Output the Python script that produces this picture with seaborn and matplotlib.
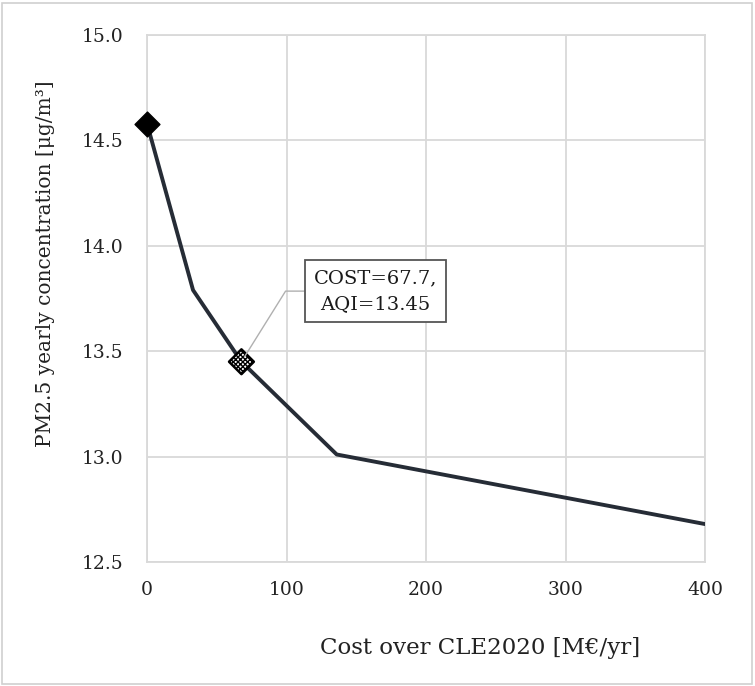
import matplotlib
matplotlib.use("Agg")
import matplotlib.pyplot as plt
import seaborn as sns
import pandas as pd
from matplotlib.patches import Rectangle

cost = [0, 33, 67.7, 136, 400]
pm25 = [14.58, 13.79, 13.45, 13.01, 12.68]
start_cost = [0]
start_pm = [14.58]
hl_cost = [67.7]
hl_pm = [13.45]
xticks = [0, 100, 200, 300, 400]
yticks = [12.5, 13.0, 13.5, 14.0, 14.5, 15.0]
label_text = "COST=67.7,\nAQI=13.45"

sns.set_theme(style="white")
plt.rcParams['font.family'] = ['DejaVu Serif', 'DejaVu Sans']

df = pd.DataFrame({"cost": cost, "pm": pm25})

fig = plt.figure(figsize=(7.55, 6.86), dpi=100)
ax = fig.add_axes([147/755, 1-562/686, 558/755, 527/686])

ax.grid(True, color="#d9d9d9", linewidth=1.3)
ax.set_axisbelow(True)
sns.lineplot(data=df, x="cost", y="pm", ax=ax, color="#262c36", linewidth=2.8, zorder=3)
ax.scatter(start_cost, start_pm, marker="D", s=160, color="black", zorder=4, clip_on=False)
ax.scatter(hl_cost, hl_pm, marker="D", s=160, facecolor="white", edgecolor="black",
           hatch="xxxxxxx", linewidth=1.8, zorder=5)

ax.annotate(label_text, xy=(hl_cost[0], hl_pm[0]), xytext=(163.5, 13.785),
            ha="center", va="center", fontsize=14, color="#1a1a1a",
            family=['DejaVu Serif'], linespacing=1.6,
            bbox=dict(boxstyle="square,pad=0.45", fc="white", ec="#555555", lw=1.3),
            arrowprops=dict(arrowstyle="-", color="#b0b0b0", lw=1,
                            connectionstyle="angle,angleA=0,angleB=58,rad=0",
                            relpos=(0, 0.5), shrinkA=0, shrinkB=4),
            zorder=6)

ax.set_xlim(0, 400)
ax.set_ylim(12.5, 15.0)
ax.set_xticks(xticks)
ax.set_yticks(yticks)
ax.set_yticklabels([f"{v:.1f}" for v in yticks])
ax.tick_params(axis="both", length=0, labelsize=13.5, colors="#222222")
ax.tick_params(axis="y", pad=17)
ax.tick_params(axis="x", pad=14)
for t in ax.get_xticklabels() + ax.get_yticklabels():
    t.set_family('DejaVu Serif')
for s in ax.spines.values():
    s.set_color("#d9d9d9")
    s.set_linewidth(1.3)

ax.set_xlabel("Cost over CLE2020 [M€/yr]", fontsize=16.5, color="#222222",
              family=['DejaVu Serif'])
ax.set_ylabel("PM2.5 yearly concentration [μg/m³]", fontsize=14.5, color="#222222",
              family=['DejaVu Serif'])
ax.xaxis.set_label_coords(0.597, -0.142)
ax.yaxis.set_label_coords(-0.165, 0.567)

fig.patches.append(Rectangle((2/755, 2/686), 750/755, 681/686, transform=fig.transFigure,
                             fill=False, edgecolor="#d0d0d0", linewidth=1.2))

fig.savefig("out.png", dpi=100)
